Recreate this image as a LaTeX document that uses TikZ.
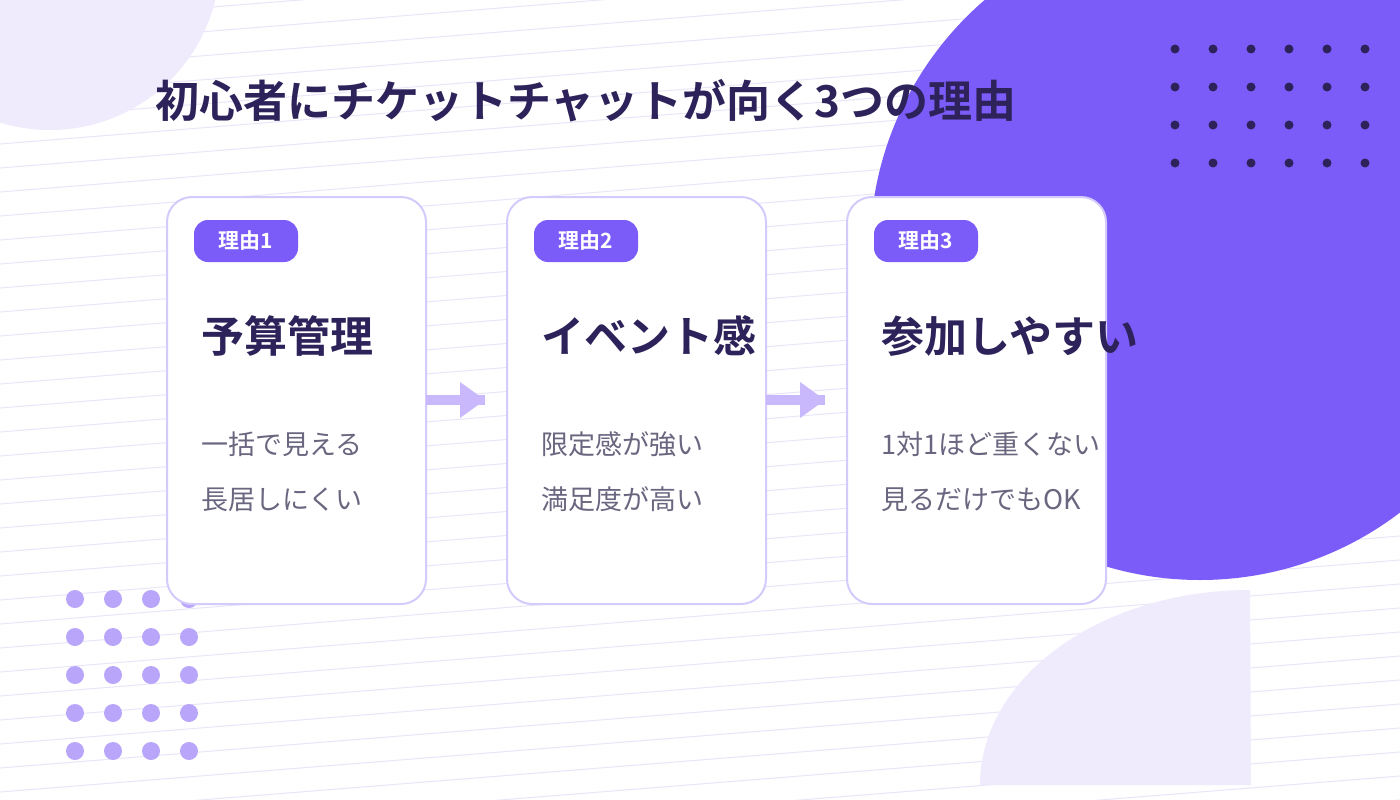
\documentclass[tikz,border=0pt]{standalone}
\usepackage{fontspec}
\usetikzlibrary{calc}
\newfontfamily\jp{Noto Sans CJK JP}
\newfontfamily\jpb{Noto Sans CJK JP Bold}
\definecolor{dark}{HTML}{2D2259}
\definecolor{vio}{HTML}{7B5CF9}
\definecolor{pale}{HTML}{EFEBFD}
\definecolor{bord}{HTML}{D4CAFB}
\definecolor{lin}{HTML}{E8E5F9}
\definecolor{dotc}{HTML}{B9A6FA}
\definecolor{arr}{HTML}{C9B8FB}
\definecolor{body}{HTML}{6B6680}
\tikzset{
 card/.style={draw=bord,line width=2pt,fill=white,rounded corners=25pt},
 badge/.style={fill=vio,rounded corners=14pt,minimum width=104pt,minimum height=42pt,text=white,font=\jpb\fontsize{21}{21}\selectfont,inner sep=0},
 head/.style={anchor=mid west,text=dark,font=\jpb\fontsize{43}{43}\selectfont,inner sep=0},
 txt/.style={anchor=mid west,text=body,font=\jp\fontsize{27}{27}\selectfont,inner sep=0},
 flow/.style={draw=none,fill=arr}
}
\begin{document}
\begin{tikzpicture}[x=1pt,y=-1pt]
\useasboundingbox (0,0) rectangle (1400,800);
\fill[white] (0,0) rectangle (1400,800);
\foreach \i in {0,...,38} {\draw[lin,line width=1pt] (0,{\i*24}) -- (1400,{\i*24-112});}
\begin{scope}
\clip (0,0) rectangle (1400,800);
\fill[pale] (50,-40) circle[radius=170];
\fill[vio] (1200,250) circle[radius=330];
\fill[pale] (980,785) arc[start angle=180,end angle=270,x radius=270,y radius=195] -- (1251,785) -- cycle;
\end{scope}
\foreach \c in {0,...,5}\foreach \r in {0,...,3}{\fill[dark] ({1175+\c*38},{49+\r*38}) circle[radius=4.5];}
\foreach \c in {0,...,3}\foreach \r in {0,...,4}{\fill[dotc] ({75+\c*38},{599+\r*38}) circle[radius=9];}
\node[anchor=mid west,text=dark,font=\jpb\fontsize{44}{44}\selectfont,inner sep=0] (title) at (155,115) {初心者にチケットチャットが向く3つの理由};
\foreach \n/\x/\b/\h/\a/\bb in {1/167/理由1/予算管理/一括で見える/長居しにくい,2/507/理由2/イベント感/限定感が強い/満足度が高い,3/847/理由3/参加しやすい/1対1ほど重くない/見るだけでもOK}{
 \draw[card] (\x,197) rectangle ++(259,407);
 \node[badge] (b\n) at (\x+79,241) {\b};
 \node[head] (h\n) at (\x+34,350) {\h};
 \node[txt] (t\n) at (\x+34,452) {\a};
 \node[txt] (u\n) at (\x+34,507) {\bb};
 \coordinate (c\n) at (\x+259,400);
}
\foreach \s/\e in {1/2,2/3}{
 \fill[arr] ($(c\s)+(0,-5)$) rectangle ($(c\s)+(59,5)$);
 \fill[arr] ($(c\s)+(34,-18)$) -- ($(c\s)+(59,0)$) -- ($(c\s)+(34,18)$) -- cycle;
}
\end{tikzpicture}
\end{document}
